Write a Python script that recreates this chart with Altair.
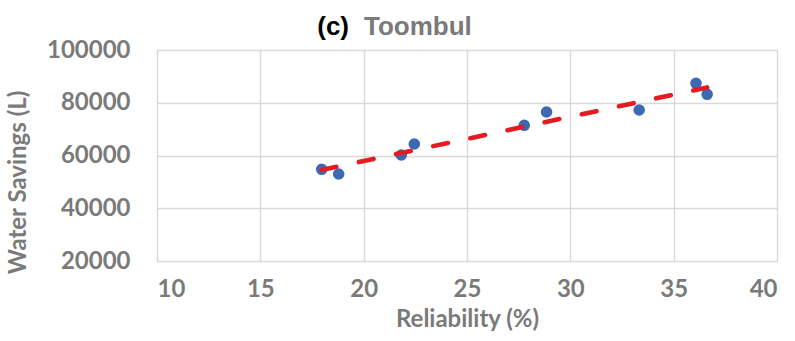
import altair as alt
import pandas as pd

reliability = [17.97, 18.79, 21.82, 22.45, 27.77, 28.85, 33.33, 36.08, 36.62]
water_savings = [54770, 52990, 60190, 64360, 71450, 76490, 77250, 87370, 83200]
x_ticks = [10, 15, 20, 25, 30, 35, 40]
y_ticks = [20000, 40000, 60000, 80000, 100000]
title_tag = ["(c)"]
title_site = ["Toombul"]

df = pd.DataFrame({"Reliability": reliability, "Savings": water_savings})

GRAY = "#7a7a7a"
GRID = "#D9D9D9"

x_enc = alt.X(
    "Reliability:Q",
    scale=alt.Scale(domain=[10, 40], nice=False),
    axis=alt.Axis(
        values=x_ticks, title="Reliability (%)", grid=True, ticks=False, domain=False,
        labelPadding=35, labelBaseline="alphabetic",
        titleY=65, titleBaseline="alphabetic",
    ),
)
y_enc = alt.Y(
    "Savings:Q",
    scale=alt.Scale(domain=[20000, 100000], nice=False),
    axis=alt.Axis(
        values=y_ticks, format="d", title="Water Savings (L)", grid=True, ticks=False,
        domain=False, labelPadding=27,
        titleX=-139, titleY=132, titleBaseline="middle", titleAngle=-90,
    ),
)

base = alt.Chart(df)

points = base.mark_circle(size=135, color="#3D68B2", opacity=1).encode(x=x_enc, y=y_enc)

trend = base.transform_regression("Reliability", "Savings").mark_line(
    color="#E31C23", strokeWidth=4.6, strokeDash=[15, 23], strokeCap="round"
).encode(x="Reliability:Q", y="Savings:Q")

tag = alt.Chart(pd.DataFrame({"t": title_tag})).mark_text(
    font="Liberation Sans", fontWeight="bold", fontSize=26, color="#000000",
    align="right", baseline="alphabetic",
).encode(text="t:N", x=alt.value(192), y=alt.value(-15))

site = alt.Chart(pd.DataFrame({"t": title_site})).mark_text(
    font="Liberation Sans", fontWeight="bold", fontSize=26, color=GRAY,
    align="left", baseline="alphabetic",
).encode(text="t:N", x=alt.value(207), y=alt.value(-15))

chart = alt.layer(points, trend, tag, site).properties(
    width=620, height=211,
    autosize=alt.AutoSizeParams(type="none"),
    padding={"left": 157, "top": 50, "right": 18, "bottom": 80},
).configure_view(stroke=None).configure_axis(
    labelFont="Lato", labelFontWeight="bold", labelFontSize=24, labelColor=GRAY,
    titleFont="Lato", titleFontWeight="bold", titleFontSize=24, titleColor=GRAY,
    gridColor=GRID, gridWidth=1.4, gridOpacity=1,
)

chart.save("out.html", embed_options={"renderer": "svg", "actions": False})
